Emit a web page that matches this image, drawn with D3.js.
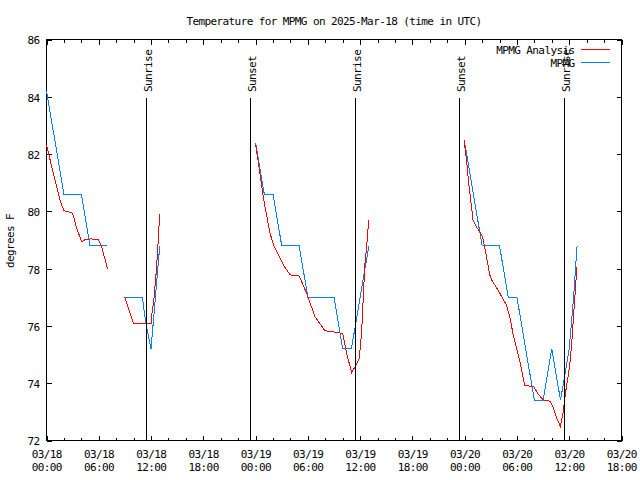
<!DOCTYPE html>
<html><head><meta charset="utf-8">
<script src="https://cdn.jsdelivr.net/npm/d3@7"></script>
<style>
html,body{margin:0;padding:0;background:#fff;}
svg{display:block;}
text{font-family:"DejaVu Sans Mono",monospace;font-size:11px;letter-spacing:-0.6px;fill:#000;}
</style></head><body>
<svg id="chart" width="640" height="480"></svg>
<script>
// ---- data ----
const titleText = "Temperature for MPMG on 2025-Mar-18 (time in UTC)";
const yLabelText = "degrees F";
const seriesNames = ["MPMG Analysis", "MPMG"];
const seriesColors = ["#ff0000", "#0080ff"];
const startTime = "2025-03-18T00:00:00Z";
const endTime = "2025-03-20T18:00:00Z";
const yTickValues = [72, 74, 76, 78, 80, 82, 84, 86];

// hours after 2025-03-18 00:00 UTC; null temperature = gap in the line
const analysisHours = [0, 0.54, 1.11, 1.6, 2.0, 2.64, 3.0, 3.47, 4.04, 4.35, 5.12, 5.96, 6.27, 7.0,
  8,
  9.0, 10.0, 12.0, 12.1, 12.32, 12.6, 12.87, 12.98,
  18,
  24.0, 24.21, 24.72, 24.9, 25.29, 25.67, 26.05, 26.43, 27.19, 27.96, 29.02, 29.87, 30.82, 31.97, 33.49, 34.0, 34.46, 35.03, 35.41, 35.9, 36.17, 36.55, 36.75, 36.98,
  42,
  47.93, 48.21, 48.5, 48.78, 48.96, 49.27, 49.73, 50.04, 50.5, 50.88, 51.07, 51.83, 52.79, 53.17, 53.55, 54.31, 54.89, 55.95, 56.41, 56.99, 57.83, 58.13, 58.52, 58.98, 59.28, 59.47, 59.67, 60.04, 60.31, 60.62, 60.88];
const analysisTemps = [82.33, 81.63, 80.93, 80.34, 80.02, 79.97, 79.93, 79.41, 78.94, 79.0, 79.04, 79.0, 78.83, 78.0,
  null,
  77.0, 76.08, 76.08, 76.43, 76.9, 77.9, 79.2, 79.9,
  null,
  82.33, 81.92, 80.87, 80.46, 79.82, 79.23, 78.83, 78.59, 78.13, 77.78, 77.74, 77.13, 76.32, 75.83, 75.77, 75.73, 75.03, 74.37, 74.57, 74.86, 75.79, 78.18, 78.77, 79.7,
  null,
  82.5, 81.8, 80.87, 80.17, 79.7, 79.49, 79.29, 79.12, 78.42, 77.78, 77.62, 77.25, 76.73, 76.32, 75.73, 74.8, 73.93, 73.87, 73.63, 73.42, 73.37, 73.17, 72.82, 72.49, 72.93, 73.4, 73.87, 74.57, 75.5, 76.9, 78.07];

const obsHours = [0, 1, 2, 3, 4, 5, 6, 7,
  8,
  9, 10, 11, 11.4, 12, 13,
  18,
  24, 25, 26, 27, 28, 29, 30, 31, 32, 33, 34, 35, 36, 37,
  42,
  48, 49, 50, 51, 52, 53, 54, 55, 56, 57, 58, 59, 60, 60.5, 60.9];
const obsTemps = [84.2, 82.4, 80.6, 80.6, 80.6, 78.8, 78.8, 78.8,
  null,
  77.0, 77.0, 77.0, 76.1, 75.2, 78.8,
  null,
  82.4, 80.6, 80.6, 78.8, 78.8, 78.8, 77.0, 77.0, 77.0, 77.0, 75.2, 75.2, 77.0, 78.8,
  null,
  82.4, 80.6, 78.8, 78.8, 78.8, 77.0, 77.0, 75.2, 73.4, 73.4, 75.2, 73.4, 75.2, 77.0, 78.8];

const sunriseTimes = ["2025-03-18T11:27:00Z", "2025-03-19T11:26:00Z", "2025-03-20T11:24:00Z"];
const sunsetTimes = ["2025-03-18T23:24:00Z", "2025-03-19T23:22:00Z"];

// ---- drawing ----
const svg = d3.select("#chart");
const t0 = new Date(startTime), t1 = new Date(endTime);
const x = d3.scaleUtc().domain([t0, t1]).range([46.5, 621.5]);
const y = d3.scaleLinear().domain([72, 86]).range([440.5, 39.5]);
const hourToDate = h => new Date(t0.getTime() + h * 3600e3);
const crisp = v => Math.round(v - 0.5) + 0.5;

const majorTicks = d3.utcHour.every(6).range(t0, new Date(t1.getTime() + 1));
const minorTicks = d3.utcHour.every(2).range(t0, new Date(t1.getTime() + 1))
  .filter(d => d.getUTCHours() % 6 !== 0);

function styleAxis(g) {
  g.select(".domain").remove();
  g.selectAll("line").attr("stroke", "#000").attr("shape-rendering", "crispEdges");
  g.attr("font-family", null).attr("font-size", null);
}

// bottom/top major + minor ticks (pointing inward)
svg.append("g").attr("transform", "translate(0,440.5)")
  .call(d3.axisBottom(x).tickValues(majorTicks).tickSizeInner(-5).tickSizeOuter(0).tickFormat(""))
  .call(styleAxis);
svg.append("g").attr("transform", "translate(0,440.5)")
  .call(d3.axisBottom(x).tickValues(minorTicks).tickSizeInner(-3).tickSizeOuter(0).tickFormat(""))
  .call(styleAxis);
svg.append("g").attr("transform", "translate(0,39.5)")
  .call(d3.axisTop(x).tickValues(majorTicks).tickSizeInner(-5).tickSizeOuter(0).tickFormat(""))
  .call(styleAxis);
svg.append("g").attr("transform", "translate(0,39.5)")
  .call(d3.axisTop(x).tickValues(minorTicks).tickSizeInner(-3).tickSizeOuter(0).tickFormat(""))
  .call(styleAxis);

// left/right ticks
const leftAxis = svg.append("g").attr("transform", "translate(46.5,0)")
  .call(d3.axisLeft(y).tickValues(yTickValues).tickSizeInner(-5).tickSizeOuter(0).tickPadding(7).tickFormat(d3.format("d")))
  .call(styleAxis);
leftAxis.selectAll("text").attr("dy", "0.4em").attr("fill", "#000");
svg.append("g").attr("transform", "translate(621.5,0)")
  .call(d3.axisRight(y).tickValues(yTickValues).tickSizeInner(-5).tickSizeOuter(0).tickFormat(""))
  .call(styleAxis);

// bottom two-line labels
const fmtDay = d3.utcFormat("%m/%d"), fmtTime = d3.utcFormat("%H:%M");
const xl = svg.append("g").selectAll("text").data(majorTicks).join("text")
  .attr("text-anchor", "middle")
  .attr("transform", d => `translate(${x(d) + 0.3},0)`);
xl.append("tspan").attr("x", 0).attr("y", 458).text(d => fmtDay(d));
xl.append("tspan").attr("x", 0).attr("y", 471).text(d => fmtTime(d));

// frame
svg.append("rect").attr("x", 46.5).attr("y", 39.5).attr("width", 575).attr("height", 401)
  .attr("fill", "none").attr("stroke", "#000").attr("shape-rendering", "crispEdges");

// data lines
const makeSeries = (hours, temps) => hours.map((h, i) => ({ t: hourToDate(h), v: temps[i] }));
const line = d3.line().defined(d => d.v != null).x(d => x(d.t)).y(d => y(d.v));
const series = [makeSeries(analysisHours, analysisTemps), makeSeries(obsHours, obsTemps)];
svg.append("path").datum(series[1]).attr("d", line).attr("fill", "none")
  .attr("stroke", seriesColors[1]).attr("stroke-width", 1).attr("shape-rendering", "crispEdges");
svg.append("path").datum(series[0]).attr("d", line).attr("fill", "none")
  .attr("stroke", seriesColors[0]).attr("stroke-width", 1).attr("shape-rendering", "crispEdges");

// sunrise / sunset markers
const sunEvents = sunriseTimes.map(t => ({ t: new Date(t), label: "Sunrise" }))
  .concat(sunsetTimes.map(t => ({ t: new Date(t), label: "Sunset" })));
const sg = svg.append("g");
sg.selectAll("line").data(sunEvents).join("line")
  .attr("x1", d => crisp(x(d.t))).attr("x2", d => crisp(x(d.t)))
  .attr("y1", 98).attr("y2", 440.5)
  .attr("stroke", "#000").attr("shape-rendering", "crispEdges");
sg.selectAll("text").data(sunEvents).join("text")
  .attr("text-anchor", "start")
  .attr("transform", d => `translate(${crisp(x(d.t)) + 5},92) rotate(-90)`)
  .text(d => d.label);

// title & y label
svg.append("text").attr("x", 334).attr("y", 25).attr("text-anchor", "middle").text(titleText);
svg.append("text").attr("text-anchor", "middle")
  .attr("transform", "translate(14,241) rotate(-90)").text(yLabelText);

// legend
const legendRows = [0, 1];
const lg = svg.append("g").selectAll("g").data(legendRows).join("g")
  .attr("transform", i => `translate(0,${i * 13})`);
lg.append("text").attr("x", 574.5).attr("y", 53.5).attr("text-anchor", "end").text(i => seriesNames[i]);
lg.append("line").attr("x1", 581).attr("x2", 610).attr("y1", 49.5).attr("y2", 49.5)
  .attr("stroke", i => seriesColors[i]).attr("shape-rendering", "crispEdges");
</script>
</body></html>
